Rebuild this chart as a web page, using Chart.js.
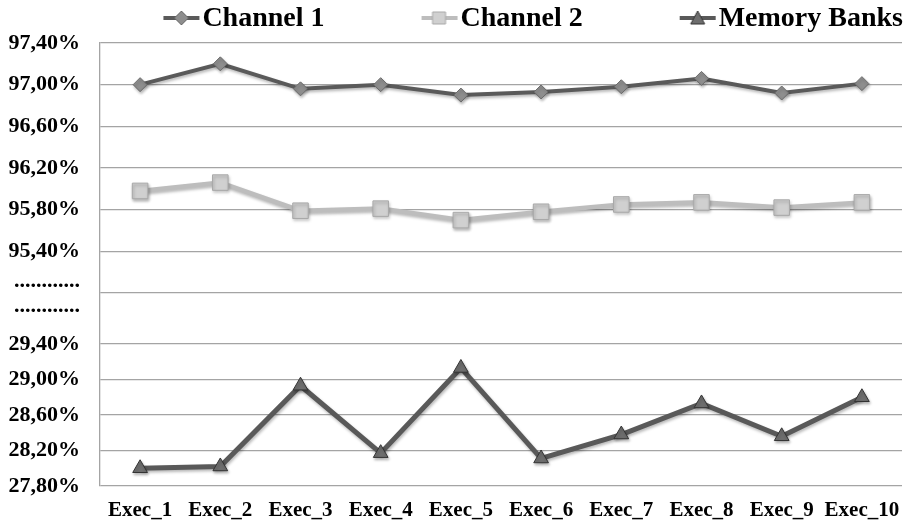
<!DOCTYPE html>
<html>
<head>
<meta charset="utf-8">
<script src="https://cdn.jsdelivr.net/npm/chart.js@4.4.1/dist/chart.umd.min.js"></script>
<style>
  html, body { margin: 0; padding: 0; background: #fff; }
  #wrap { width: 914px; height: 532px; }
</style>
</head>
<body>
<div id="wrap"><canvas id="chartCanvas"></canvas></div>
<script>
// 資料
const labels = ["Exec_1", "Exec_2", "Exec_3", "Exec_4", "Exec_5", "Exec_6", "Exec_7", "Exec_8", "Exec_9", "Exec_10"];
const channel1 = [97.00, 97.20, 96.96, 97.00, 96.90, 96.93, 96.98, 97.06, 96.92, 97.01];
const channel2 = [95.98, 96.06, 95.79, 95.81, 95.70, 95.78, 95.85, 95.87, 95.82, 95.87];
const memoryBanks = [28.00, 28.02, 28.93, 28.17, 29.13, 28.11, 28.38, 28.73, 28.36, 28.80];

// 斷軸刻度：上段與下段
const upperTicks = [95.40, 95.80, 96.20, 96.60, 97.00, 97.40];
const lowerTicks = [27.80, 28.20, 28.60, 29.00, 29.40];
const breakLabel = "............";

// 斷軸換算：下段 27.80~29.40，上段 95.00~97.40，中間留一段空白
const LOW_MIN = 27.80, LOW_MAX = 29.40, LOW_SPAN = 142;
const UP_MIN = 95.00, UP_MAX = 97.40, UP_BASE = 193, UP_SPAN = 250;
function toAxis(v) {
	if (v > 50) return UP_BASE + (v - UP_MIN) / (UP_MAX - UP_MIN) * UP_SPAN;
	return (v - LOW_MIN) / (LOW_MAX - LOW_MIN) * LOW_SPAN;
}
function pct(v) {
	return v.toFixed(2).replace(".", ",") + "%";
}

// 刻度表：位置、文字、是否畫格線
const tickDefs = [];
lowerTicks.forEach(v => tickDefs.push({ pos: toAxis(v), text: pct(v), grid: true }));
tickDefs.push({ pos: 180, text: breakLabel, grid: false });
tickDefs.push({ pos: toAxis(UP_MIN), text: "", grid: true });
tickDefs.push({ pos: 205, text: breakLabel, grid: false });
upperTicks.forEach(v => tickDefs.push({ pos: toAxis(v), text: pct(v), grid: true }));
tickDefs.sort((a, b) => a.pos - b.pos);

const serif = "'Liberation Serif', 'Times New Roman', serif";

// 圖例圖示：線段加上標記
function legendIcon(lineColor, lineWidth, marker, fill, stroke) {
	const c = document.createElement("canvas");
	c.width = 38; c.height = 18;
	const g = c.getContext("2d");
	g.strokeStyle = lineColor;
	g.lineWidth = lineWidth;
	g.beginPath(); g.moveTo(1, 9); g.lineTo(37, 9); g.stroke();
	g.fillStyle = fill; g.strokeStyle = stroke; g.lineWidth = 1;
	g.beginPath();
	if (marker === "diamond") {
		g.moveTo(19, 2); g.lineTo(26, 9); g.lineTo(19, 16); g.lineTo(12, 9);
	} else if (marker === "square") {
		g.rect(12, 3, 13, 12);
	} else {
		g.moveTo(19, 2); g.lineTo(26, 15); g.lineTo(12, 15);
	}
	g.closePath(); g.fill(); g.stroke();
	return c;
}

const series = [
	{ label: "Channel 1", values: channel1, line: "#5a5a5a", width: 4, style: "rectRot", radius: 7, fill: "#8e8e8e", border: "#6a6a6a", marker: "diamond" },
	{ label: "Channel 2", values: channel2, line: "#bdbdbd", width: 4.5, style: "rect", radius: 11, fill: "#d0d0d0", border: "#a9a9a9", marker: "square" },
	{ label: "Memory Banks", values: memoryBanks, line: "#595959", width: 5, style: "triangle", radius: 8.5, fill: "#6e6e6e", border: "#333333", marker: "triangle" }
];
series.forEach(s => { s.icon = legendIcon(s.line, 4, s.marker, s.fill, s.border); });

// 上方圖例自行繪製
const topLegend = {
	id: "topLegend",
	afterDraw(chart) {
		const ctx = chart.ctx;
		ctx.save();
		ctx.font = "bold 28px " + serif;
		ctx.fillStyle = "#000";
		ctx.textBaseline = "middle";
		const gap = 96, iconW = 38, iconGap = 2;
		const widths = series.map(s => iconW + iconGap + ctx.measureText(s.label).width);
		const total = widths.reduce((a, b) => a + b, 0) + gap * (series.length - 1);
		let x = 903 - total;
		const y = 18;
		series.forEach((s, i) => {
			ctx.drawImage(s.icon, x, y - 9);
			ctx.fillText(s.label, x + iconW + iconGap, y + 1);
			x += widths[i] + gap;
		});
		ctx.restore();
	}
};

// 標記陰影
const markerShadow = {
	id: "markerShadow",
	beforeDatasetsDraw(chart) {
		const ctx = chart.ctx;
		ctx.save();
		ctx.shadowColor = "rgba(0,0,0,0.28)";
		ctx.shadowBlur = 3;
		ctx.shadowOffsetX = 1;
		ctx.shadowOffsetY = 2;
	},
	afterDatasetsDraw(chart) {
		chart.ctx.restore();
	}
};

const ctx = document.getElementById("chartCanvas").getContext("2d");
const chart = new Chart(ctx, {
	type: "line",
	data: {
		labels: labels,
		datasets: series.map(s => ({
			label: s.label,
			data: s.values.map(toAxis),
			borderColor: s.line,
			borderWidth: s.width,
			backgroundColor: s.fill,
			pointStyle: s.style,
			pointRadius: s.radius,
			pointBackgroundColor: s.fill,
			pointBorderColor: s.border,
			pointBorderWidth: 1,
			tension: 0,
			fill: false
		}))
	},
	options: {
		responsive: true,
		maintainAspectRatio: false,
		animation: false,
		layout: { padding: { top: 43, left: 8, right: 7, bottom: 0 } },
		scales: {
			x: {
				offset: true,
				grid: { display: false, drawTicks: false },
				border: { display: false },
				ticks: {
					color: "#000",
					padding: 12,
					maxRotation: 0,
					autoSkip: false,
					font: { family: serif, size: 21, weight: "bold" }
				},
				afterFit(scale) { scale.height = 46; }
			},
			y: {
				min: 0,
				max: UP_BASE + UP_SPAN,
				afterBuildTicks(scale) {
					scale.ticks = tickDefs.map(t => ({ value: t.pos }));
				},
				afterFit(scale) { scale.width = 92; },
				grid: {
					drawTicks: false,
					lineWidth: 1.3,
					color: c => (c.tick && tickDefs[c.index] && !tickDefs[c.index].grid) ? "rgba(0,0,0,0)" : "#a4a4a4"
				},
				border: { display: true, color: "#a4a4a4", width: 1.3 },
				ticks: {
					autoSkip: false,
					color: "#000",
					padding: 20,
					font: { family: serif, size: 22, weight: "bold" },
					callback: (value, index) => tickDefs[index] ? tickDefs[index].text : ""
				}
			}
		},
		plugins: {
			legend: { display: false },
			tooltip: { enabled: false }
		}
	},
	plugins: [topLegend, markerShadow]
});
</script>
</body>
</html>
